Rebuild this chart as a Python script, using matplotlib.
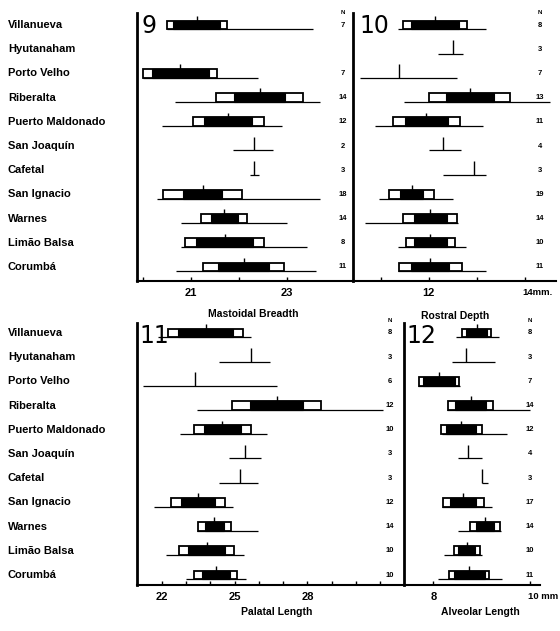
import numpy as np
import matplotlib
matplotlib.use('Agg')
import matplotlib.pyplot as plt
from matplotlib.patches import Rectangle
from matplotlib.transforms import blended_transform_factory, offset_copy

plt.rcParams['font.family'] = ['Liberation Sans', 'DejaVu Sans']
plt.rcParams['font.weight'] = 'bold'

nan = np.nan

localities = ['Villanueva', 'Hyutanaham', 'Porto Velho', 'Riberalta',
              'Puerto Maldonado', 'San Joaquín', 'Cafetal', 'San Ignacio',
              'Warnes', 'Limão Balsa', 'Corumbá']

# 9 - mastoidal breadth
mb_n = [7, None, 7, 14, 12, 2, 3, 18, 14, 8, 11]
mb_mean = [21.12, nan, 20.78, 22.43, 21.78, 22.31, 22.31, 21.24, 21.69, 21.70, 22.10]
mb_sd = [0.625, nan, 0.77, 0.91, 0.74, nan, nan, 0.82, 0.48, 0.82, 0.84]
mb_2se = [0.49, nan, 0.59, 0.53, 0.50, nan, nan, 0.41, 0.28, 0.60, 0.53]
mb_min = [20.49, nan, 20.01, 20.67, 20.39, 21.88, 22.22, 20.29, 20.79, 20.79, 20.69]
mb_max = [23.55, nan, 22.40, 23.69, 22.89, 22.70, 22.42, 23.69, 22.99, 23.41, 23.60]

# 10 - rostral depth
rd_n = [8, 3, 7, 13, 11, 4, 3, 19, 14, 10, 11]
rd_mean = [12.13, 12.51, 11.38, 12.85, 11.95, 12.30, 12.94, 11.64, 12.03, 12.03, 12.03]
rd_sd = [0.67, nan, nan, 0.85, 0.69, nan, nan, 0.47, 0.56, 0.51, 0.66]
rd_2se = [0.50, nan, nan, 0.50, 0.44, nan, nan, 0.24, 0.34, 0.34, 0.40]
rd_min = [11.36, 12.19, 10.56, 11.48, 10.88, 12.00, 12.30, 10.97, 10.67, 11.36, 11.36]
rd_max = [13.20, 12.72, 12.58, 14.52, 13.12, 12.68, 13.20, 12.51, 12.61, 12.78, 13.20]

# 11 - palatal length
pl_n = [8, 3, 6, 12, 10, 3, 3, 12, 14, 10, 10]
pl_mean = [23.81, 25.67, 23.37, 26.74, 24.50, 25.41, 25.23, 23.49, 24.17, 23.85, 24.23]
pl_sd = [1.55, nan, nan, 1.84, 1.17, nan, nan, 1.12, 0.67, 1.13, 0.89]
pl_2se = [1.13, nan, nan, 1.09, 0.76, nan, nan, 0.69, 0.38, 0.76, 0.58]
pl_min = [21.84, 24.34, 21.24, 23.47, 22.76, 24.76, 24.34, 21.66, 23.47, 22.18, 22.99]
pl_max = [25.67, 26.46, 26.74, 31.13, 26.35, 26.09, 25.96, 24.93, 25.96, 25.39, 25.46]

# 12 - alveolar length
al_n = [8, 3, 7, 14, 12, 4, 3, 17, 14, 10, 11]
al_mean = [8.90, 8.68, 8.12, 8.77, 8.58, 8.72, 9.01, 8.62, 9.07, 8.69, 8.74]
al_sd = [0.30, nan, 0.41, 0.46, 0.42, nan, nan, 0.42, 0.32, 0.27, 0.41]
al_2se = [0.22, nan, 0.33, 0.32, 0.31, nan, nan, 0.27, 0.19, 0.17, 0.32]
al_min = [8.47, 8.38, 7.68, 8.28, 8.17, 8.50, 9.01, 8.17, 8.50, 8.21, 8.10]
al_max = [9.37, 9.28, 8.55, 10.00, 9.53, 9.00, 9.14, 9.21, 9.41, 9.00, 9.43]


W, H = 560, 631
fig = plt.figure(figsize=(W / 100, H / 100), dpi=100)


def px_axes(x0, x1, ytop, ybot):
    return fig.add_axes([x0 / W, 1 - ybot / H, (x1 - x0) / W, (ybot - ytop) / H])


def draw_panel(ax, means, sds, ses, mins, maxs, ns, ncol_x, num, num_x):
    h = 0.18
    for i in range(len(means)):
        if np.isnan(means[i]):
            continue
        ax.hlines(i + h, mins[i], maxs[i], color='black', lw=0.9)
        if not np.isnan(sds[i]):
            ax.add_patch(Rectangle((means[i] - sds[i], i - h), 2 * sds[i], 2 * h,
                                   fc='white', ec='black', lw=1.3, zorder=3))
            ax.add_patch(Rectangle((means[i] - ses[i], i - h), 2 * ses[i], 2 * h,
                                   fc='black', ec='black', lw=0.8, zorder=4))
        ax.vlines(means[i], i + h, i - 0.38, color='black', lw=1.0, zorder=5)
    tr = blended_transform_factory(ax.transAxes, ax.transData)
    for i, n in enumerate(ns):
        if n is not None:
            ax.text(ncol_x, i, str(n), transform=tr, ha='center', va='center',
                    fontsize=5.5, clip_on=False)
    ax.text(ncol_x, -0.52, 'N', transform=tr, ha='center', va='center',
            fontsize=4.5, clip_on=False)
    ax.text(num_x, 0.995, num, transform=ax.transAxes, ha='left', va='top',
            fontsize=17, fontweight='normal', family='DejaVu Sans')
    for s in ['top', 'right']:
        ax.spines[s].set_visible(False)
    ax.spines['left'].set_linewidth(2.0)
    ax.spines['bottom'].set_linewidth(1.5)
    ax.set_yticks([])
    ax.tick_params(axis='x', direction='in', length=3, width=1,
                   labelsize=8, pad=5)


ax9 = px_axes(137, 353, 13, 281)
ax10 = px_axes(353, 556, 13, 281)
ax11 = px_axes(137, 404, 323, 585)
ax12 = px_axes(404, 540, 323, 585)

for ax in (ax9, ax10):
    ax.set_ylim(10.58, -0.5)
for ax in (ax11, ax12):
    ax.set_ylim(10.41, -0.41)

ax9.set_xlim(19.875, 24.375)
ax10.set_xlim(10.42, 14.65)
ax11.set_xlim(20.98, 31.98)
ax12.set_xlim(7.39, 10.21)

draw_panel(ax9, mb_mean, mb_sd, mb_2se, mb_min, mb_max, mb_n, 0.954, '9', 0.02)
draw_panel(ax10, rd_mean, rd_sd, rd_2se, rd_min, rd_max, rd_n, 0.92, '10', 0.03)
draw_panel(ax11, pl_mean, pl_sd, pl_2se, pl_min, pl_max, pl_n, 0.948, '11', 0.01)
draw_panel(ax12, al_mean, al_sd, al_2se, al_min, al_max, al_n, 0.926, '12', 0.02)

ax9.set_xticks([20, 21, 22, 23])
ax9.set_xticklabels(['', '21', '', '23'])
ax10.set_xticks([11, 12, 13, 14])
ax10.set_xticklabels(['', '12', '', '14mm.'])
ax11.set_xticks(list(range(22, 32)))
ax11.set_xticklabels(['22', '', '', '25', '', '', '28', '', '', ''])
ax12.set_xticks([8, 10])
ax12.set_xticklabels(['8', '10 mm'])
for ax in (ax10, ax12):
    lab = ax.get_xticklabels()[-1]
    lab.set_horizontalalignment('left')
    lab.set_fontsize(6.8)
    lab.set_transform(offset_copy(lab.get_transform(), fig=fig, x=-2, y=0, units='dots'))

# locality names
for ax in (ax9, ax11):
    tr = blended_transform_factory(fig.transFigure, ax.transData)
    for i, name in enumerate(localities):
        ax.text(8 / W, i, name, transform=tr, ha='left', va='center',
                fontsize=8, clip_on=False)

fig.text(253 / W, 1 - 314 / H, 'Mastoidal Breadth', ha='center', va='center', fontsize=7.5)
fig.text(455 / W, 1 - 316 / H, 'Rostral Depth', ha='center', va='center', fontsize=7.5)
fig.text(277 / W, 1 - 612 / H, 'Palatal Length', ha='center', va='center', fontsize=7.5)
fig.text(480 / W, 1 - 612 / H, 'Alveolar Length', ha='center', va='center', fontsize=7.5)

fig.savefig('out.png', dpi=100)
